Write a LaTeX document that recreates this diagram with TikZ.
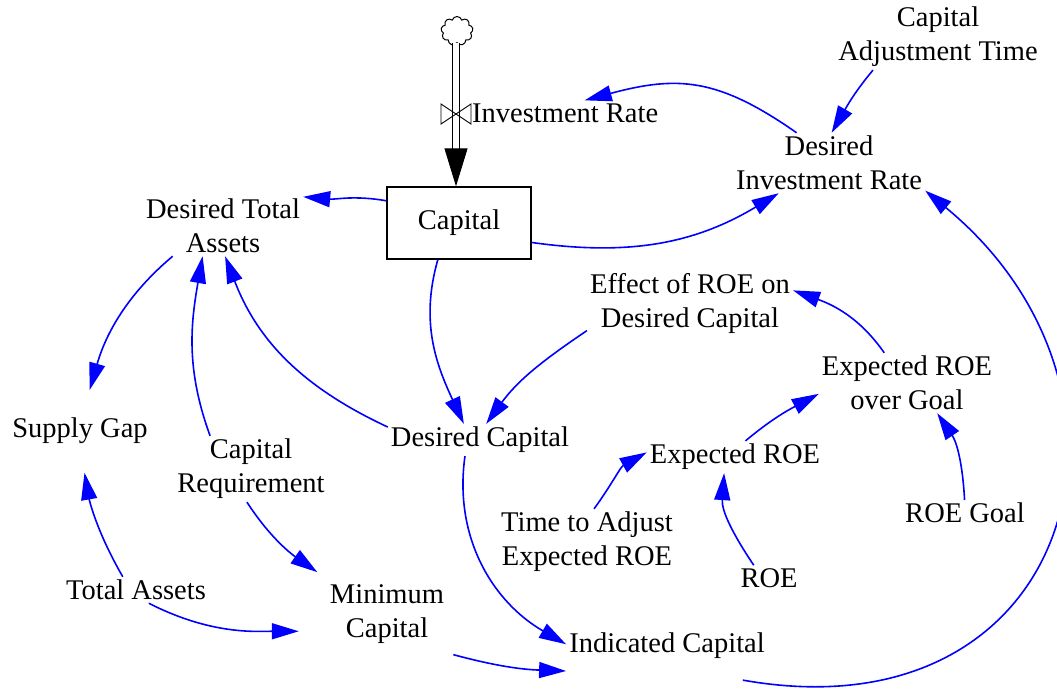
\documentclass[tikz,border=0pt]{standalone}
\usepackage{fontspec}
\setmainfont{Liberation Serif}
\usepackage{tikz}
\usetikzlibrary{arrows.meta, shapes.symbols}

\tikzset{
	var/.style={align=center, inner sep=3pt, font=\fontsize{28.5}{34}\selectfont},
	stock/.style={draw, line width=1.3pt, minimum width=144pt, minimum height=72pt, inner sep=0pt, font=\fontsize{28.5}{34}\selectfont},
	lnk/.style={blue, line width=1.6pt, -{Triangle[length=27pt,width=16pt]}},
}

\begin{document}
\begin{tikzpicture}[x=1pt, y=1pt]
	\useasboundingbox (0,0) rectangle (1057,-688);

	%stock and flow
	\node[stock] (cap) at (459,-223) {Capital};
	\node[cloud, cloud puffs=9, cloud ignores aspect, draw, line width=1pt, minimum width=32pt, minimum height=29pt, inner sep=0pt] (src) at (457,-31) {};
	\coordinate (vlv) at (456,-114);
	\coordinate (pipeend) at (456,-150);
	\draw[line width=1.3pt, double distance=5.5pt, shorten >=37pt] (src.south -| vlv) -- (vlv |- cap.north);
	\draw[line width=1pt, -{Triangle[length=38pt,width=23pt]}] (pipeend) -- (vlv |- cap.north);
	\draw[line width=0.9pt] (vlv) -- ++(-15,10) -- ++(0,-20) -- cycle;	%valve
	\draw[line width=0.9pt] (vlv) -- ++(15,10) -- ++(0,-20) -- cycle;
	\node[var, anchor=west] (IR) at (469,-113) {Investment Rate};

	%nodes
	\node[var] (DTA) at (223,-226) {Desired Total\\Assets};
	\node[var] (CAT) at (938,-37)  {Capital\\Adjustment Time};
	\node[var] (DIR) at (829,-163) {Desired\\Investment Rate};
	\node[var] (EFF) at (690,-303) {Effect of ROE on\\Desired Capital};
	\node[var] (ERG) at (907,-383) {Expected ROE\\over Goal};
	\node[var] (SG)  at (80,-431)  {Supply Gap};
	\node[var] (DC)  at (480,-440) {Desired Capital};
	\node[var] (CR)  at (251,-469) {Capital\\Requirement};
	\node[var] (ER)  at (735,-457) {Expected ROE};
	\node[var] (TAE) at (587,-542) {Time to Adjust\\Expected ROE};
	\node[var] (RG)  at (965,-513) {ROE Goal};
	\node[var] (ROE) at (769,-578) {ROE};
	\node[var] (TA)  at (136,-590) {Total Assets};
	\node[var] (MC)  at (387,-614) {Minimum\\Capital};
	\node[var] (IC)  at (667,-646) {Indicated Capital};

	%links
	\draw[lnk] (DIR.137) to[out=145,in=15,looseness=1.15] (IR.33);	%DIR--IR
	\draw[lnk] (CAT.207) to[out=230,in=60] (DIR.85);		%CAT--DIR
	\draw[lnk] (cap.-15) to[out=-8,in=211] (DIR.211);		%cap--DIR
	\draw[lnk] (cap.163) to[out=170,in=-5] (DTA.20);		%cap--DTA
	\draw[lnk] (cap.240) to[out=254,in=115] (DC.135);		%cap--DC
	\draw[lnk] (EFF.195) to[out=214,in=54] (DC.69);			%EFF--DC
	\draw[lnk] (ERG.127) to[out=125,in=-20] (EFF.7);		%ERG--EFF
	\draw[lnk] (ER.57) to[out=40,in=208] (ERG.187);			%ER--ERG
	\draw[lnk] (RG.92) to[out=93,in=-56] (ERG.-45);			%RG--ERG
	\draw[lnk] (ROE.140) to[out=124,in=266] (ER.236);		%ROE--ER
	\draw[lnk] (TAE.78) to[out=54,in=209] (ER.177);			%TAE--ER
	\draw[lnk] (DC.172) to[out=155,in=291] (DTA.274);		%DC--DTA
	\draw[lnk] (CR.141) to[out=110,in=260] (DTA.236);		%CR--DTA
	\draw[lnk, shorten >=26pt] (DTA.211) to[out=220,in=74] (SG.81);	%DTA--SG
	\draw[lnk, shorten >=26pt] (TA.135) to[out=120,in=280] (SG.south);	%TA--SG
	\draw[lnk, shorten >=16pt] (CR.263) to[out=303,in=145] (MC.150);	%CR--MC
	\draw[lnk, shorten >=28pt] (TA.314) to[out=333,in=180] (MC.196);	%TA--MC
	\draw[lnk] ([shift={(12,-8)}]MC.329) to[out=345,in=178] ([yshift=-25pt]IC.west);	%MC--IC
	\draw[lnk] (DC.227) to[out=262,in=150] (IC.179);		%DC--IC
	\draw[lnk] ([yshift=-18pt]IC.-12) .. controls +(332,-59) and +(245,-202) .. (DIR.-16);	%IC--DIR

\end{tikzpicture}
\end{document}
